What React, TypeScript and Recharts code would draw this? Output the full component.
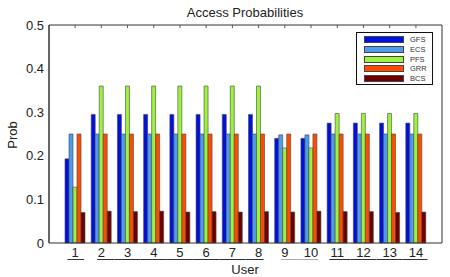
import React from 'react';
import { BarChart, Bar, XAxis, YAxis } from 'recharts';

const users = ['1', '2', '3', '4', '5', '6', '7', '8', '9', '10', '11', '12', '13', '14'];
const gfs = [0.193, 0.295, 0.295, 0.295, 0.295, 0.295, 0.295, 0.295, 0.24, 0.24, 0.275, 0.275, 0.275, 0.275];
const ecs = [0.25, 0.25, 0.25, 0.25, 0.25, 0.25, 0.25, 0.25, 0.248, 0.248, 0.25, 0.25, 0.25, 0.25];
const pfs = [0.128, 0.36, 0.36, 0.36, 0.36, 0.36, 0.36, 0.36, 0.218, 0.218, 0.297, 0.297, 0.297, 0.297];
const grr = [0.25, 0.25, 0.25, 0.25, 0.25, 0.25, 0.25, 0.25, 0.25, 0.25, 0.25, 0.25, 0.25, 0.25];
const bcs = [0.07, 0.073, 0.072, 0.073, 0.071, 0.072, 0.071, 0.072, 0.071, 0.073, 0.072, 0.072, 0.07, 0.071];
const yTicks = [0, 0.1, 0.2, 0.3, 0.4, 0.5];
// groups of user ticks that share one underline (first index, last index)
const underlineGroups = [
  [0, 0],
  [1, 7],
  [8, 9],
  [10, 13],
];

const data = users.map((u, i) => ({
  user: u,
  GFS: gfs[i],
  ECS: ecs[i],
  PFS: pfs[i],
  GRR: grr[i],
  BCS: bcs[i],
}));

const series = [
  { key: 'GFS', color: '#0010e0' },
  { key: 'ECS', color: '#4c9cf0' },
  { key: 'PFS', color: '#9cf23c' },
  { key: 'GRR', color: '#ff4c00' },
  { key: 'BCS', color: '#6e0000' },
];

const groupStyle = [
  { padL: 7.7, padR: 9, color: '#333' },
  { padL: 4.3, padR: 5, color: '#333' },
  { padL: 4, padR: 7, color: '#aaa' },
  { padL: 8, padR: 11.7, color: '#333' },
];

const FONT = '"Liberation Sans", Arial, Helvetica, sans-serif';
const HALF_BAND = 13;

const UserTick = (props: any) => {
  const { x, y, payload, index } = props;
  const gi = underlineGroups.findIndex((g) => index >= g[0] && index <= g[1]);
  const g = underlineGroups[gi];
  const st = groupStyle[gi];
  const left = index === g[0] ? x - st.padL : x - HALF_BAND;
  const right = index === g[1] ? x + st.padR : x + HALF_BAND;
  return (
    <g>
      <text x={x} y={y} dy="0.71em" textAnchor="middle" fontSize={13} fill="#222" fontFamily={FONT}>
        {payload.value}
      </text>
      <line x1={left} x2={right} y1={y + 11.5} y2={y + 11.5} stroke={st.color} strokeWidth={1} />
    </g>
  );
};

const NoTick = () => <g />;

const LegendBox = () => (
  <div
    style={{
      position: 'absolute',
      left: 356,
      top: 32,
      border: '1px solid #111',
      width: 75,
      height: 48,
      background: '#fff',
      paddingTop: 2,
      paddingBottom: 1,
    }}
  >
    {series.map((s) => (
      <div key={s.key} style={{ display: 'flex', alignItems: 'center', height: 9.7 }}>
        <div
          style={{
            marginLeft: 7,
            width: 38,
            height: 5,
            background: s.color,
            border: '0.7px solid #444',
          }}
        />
        <span style={{ marginLeft: 6, fontSize: 7.5, fontFamily: FONT, color: '#333', lineHeight: '9px' }}>
          {s.key}
        </span>
      </div>
    ))}
  </div>
);

export default function App() {
  return (
    <div style={{ position: 'absolute', left: 0, top: 0, width: 450, height: 277, background: '#fff' }}>
      <BarChart
        width={450}
        height={277}
        data={data}
        margin={{ top: 25, right: 8, bottom: 0, left: 0 }}
        barGap={0}
        barSize={4}
      >
        <XAxis
          xAxisId="b"
          dataKey="user"
          height={34}
          padding={{ left: 13, right: 13 }}
          tickLine={false}
          tickSize={0}
          tickMargin={5}
          axisLine={{ stroke: '#333' }}
          tick={<UserTick />}
          interval={0}
        />
        <XAxis
          xAxisId="t"
          dataKey="user"
          orientation="top"
          height={1}
          mirror
          padding={{ left: 13, right: 13 }}
          tickSize={3}
          tickLine={{ stroke: '#555' }}
          axisLine={{ stroke: '#333' }}
          tick={<NoTick />}
          interval={0}
        />
        <YAxis
          yAxisId="l"
          width={49}
          domain={[0, 0.5]}
          ticks={yTicks}
          tickLine={false}
          tickSize={0}
          tickMargin={5}
          axisLine={{ stroke: '#333' }}
          tick={{ fontSize: 13, fill: '#222', fontFamily: FONT }}
        />
        <YAxis
          yAxisId="lm"
          width={1}
          mirror
          domain={[0, 0.5]}
          ticks={yTicks}
          tickSize={3}
          tickLine={{ stroke: '#555' }}
          axisLine={{ stroke: '#333' }}
          tick={<NoTick />}
        />
        <YAxis
          yAxisId="r"
          orientation="right"
          width={1}
          mirror
          domain={[0, 0.5]}
          ticks={yTicks}
          tickSize={3}
          tickLine={{ stroke: '#555' }}
          axisLine={{ stroke: '#333' }}
          tick={<NoTick />}
        />
        {series.map((s) => (
          <Bar
            key={s.key}
            dataKey={s.key}
            xAxisId="b"
            yAxisId="l"
            fill={s.color}
            stroke="#444"
            strokeWidth={0.6}
            isAnimationActive={false}
          />
        ))}
      </BarChart>
      <LegendBox />
      <svg
        width={450}
        height={277}
        style={{ position: 'absolute', left: 0, top: 0, pointerEvents: 'none' }}
      >
        <text x={245} y={16.5} textAnchor="middle" fontSize={13} fill="#222" fontFamily={FONT}>
          Access Probabilities
        </text>
        <text x={245} y={274} textAnchor="middle" fontSize={13} fill="#222" fontFamily={FONT}>
          User
        </text>
        <text
          x={17}
          y={135}
          textAnchor="middle"
          fontSize={13}
          fill="#222"
          fontFamily={FONT}
          transform="rotate(-90 17 135)"
        >
          Prob
        </text>
      </svg>
    </div>
  );
}
